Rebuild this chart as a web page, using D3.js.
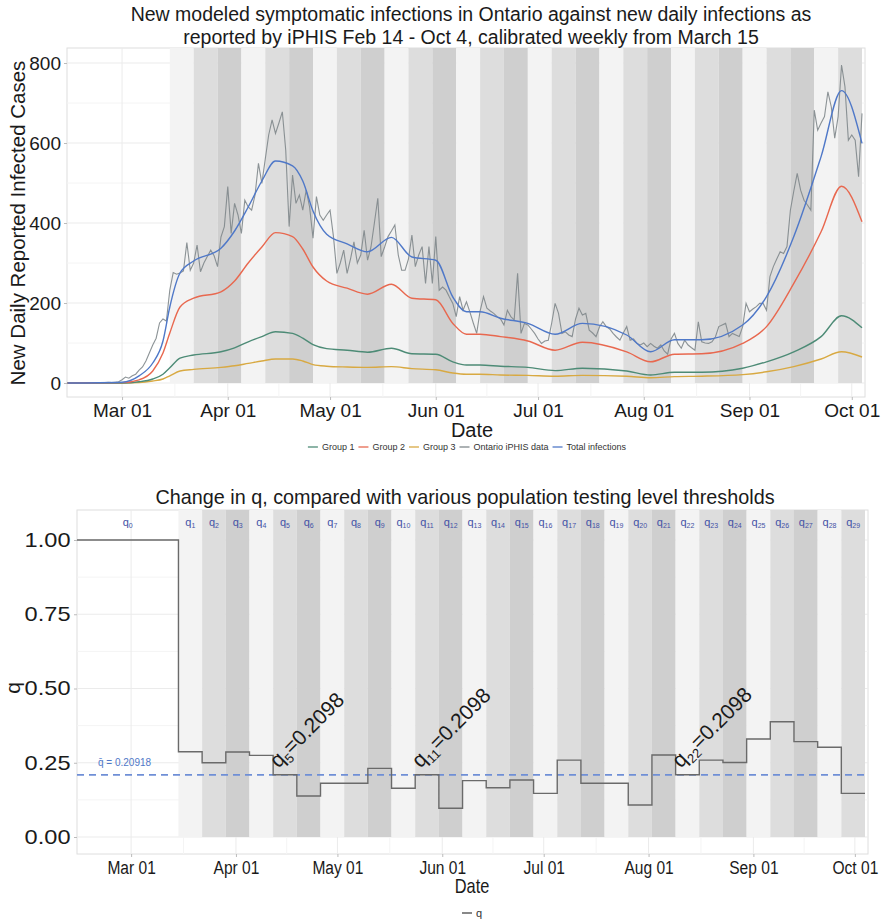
<!DOCTYPE html>
<html>
<head>
<meta charset="utf-8">
<script src="https://cdn.jsdelivr.net/npm/d3@7"></script>
<style>
body { margin: 0; background: #fff; }
text { font-family: "Liberation Sans", Arial, sans-serif; }
</style>
</head>
<body>
<svg id="chart" width="885" height="924"></svg>
<script>
// days are counted from Feb 14 2020
var startDate = new Date(2020, 1, 14);
var lastDay = 233;          // Oct 4
var firstWeekDay = 30;      // Mar 15, weekly calibration starts

var monthTicks = ["2020-03-01","2020-04-01","2020-05-01","2020-06-01","2020-07-01","2020-08-01","2020-09-01","2020-10-01"];

// modeled curves at these days
var smoothDays = [0,16,21,25,28,30,33,37,45,49,53,57,61,66,69,72,76,82,88,95,101,108,113,117,121,127,135,143,151,164,171,178,186,198,205,213,221,227,233];
var group1 = [0,0,3,10,22,38,62,70,78,88,103,116,128,124,112,96,86,82,77,87,73,72,53,45,45,42,39,31,37,30,20,27,27,37,53,78,116,168,138];
var group2 = [0,1,8,30,75,125,190,212,228,255,300,340,376,366,335,290,255,237,222,247,212,208,149,122,122,116,105,82,102,78,53,72,73,99,141,249,378,492,403];
var group3 = [0,0,1,5,10,18,30,34,39,43,49,55,60,60,55,46,42,40,39,41,36,33,25,22,22,20,19,17,19,17,13,16,17,21,28,41,60,78,65];
var totalInfections = [0,2,18,50,105,190,275,305,337,380,440,505,555,543,505,430,372,348,328,364,315,307,215,178,178,162,149,122,149,120,78,108,108,145,216,366,566,731,599];

// daily iPHIS counts, Feb 14 .. Oct 4
var iphis = [0,0,0,0,0,1,0,0,1,0,0,1,2,1,2,3,
  8,15,12,18,22,32,40,55,75,95,112,150,160,155,
  232,276,272,275,280,351,282,300,345,278,
  300,316,332,318,291,365,391,491,374,449,
  420,374,457,440,432,470,549,499,560,620,
  658,624,650,678,582,391,520,449,470,432,
  482,440,362,466,420,407,420,432,366,274,
  300,332,274,310,353,300,320,382,307,340,
  400,462,316,340,366,380,395,320,282,282,
  310,370,291,320,341,249,341,249,366,232,
  240,232,215,199,166,216,182,203,178,150,
  124,180,216,187,180,174,166,160,145,182,
  166,158,274,124,149,145,135,124,110,99,
  105,107,150,199,174,124,128,120,116,160,
  187,170,174,132,125,116,140,153,141,135,
  124,115,107,125,141,107,110,99,95,100,
  91,99,92,87,95,80,72,110,124,99,
  87,107,95,88,82,153,103,100,99,103,
  115,141,145,149,116,124,120,116,141,199,
  178,185,191,199,199,182,266,291,310,328,
  324,341,432,480,524,482,457,445,432,682,
  632,650,666,728,690,612,666,795,741,607,
  620,607,516,674];

// weekly q, q0 .. q29
var qValues = [1.00,0.287,0.250,0.286,0.275,0.2098,0.138,0.181,0.181,0.231,0.164,0.2098,0.097,0.190,0.166,0.192,0.147,0.259,0.181,0.181,0.108,0.276,0.2098,0.259,0.251,0.330,0.388,0.321,0.302,0.147];
var qMean = 0.20918;
var annotated = [5, 11, 22];

var seriesNames = ["Group 1","Group 2","Group 3","Ontario iPHIS data","Total infections"];
var seriesColors = ["#4d8b76","#e8684f","#d8a942","#7f878b","#4f78c8"];
var bandColors = ["#f3f3f3","#dddddd","#cfcfcf"];

function day(d) { return d3.timeDay.offset(startDate, d); }
function periodStart(i) { return i == 0 ? 0 : firstWeekDay + 7 * (i - 1); }
function periodEnd(i) { return i == 0 ? firstWeekDay : firstWeekDay + 7 * i; }

var svg = d3.select("#chart");
var parseDay = d3.timeParse("%Y-%m-%d");
var fmt = d3.timeFormat("%b %d");

// ---------------- top chart ----------------
var x1 = d3.scaleTime().domain([day(0), day(lastDay)]).range([67.5, 862]);
var y1 = d3.scaleLinear().domain([-35, 837.5]).range([397, 48]);

var topG = svg.append("g");
topG.append("rect").attr("x", 67).attr("y", 48).attr("width", 798).attr("height", 349)
  .attr("fill", "#fff").attr("stroke", "#dedede");

[100,300,500,700].forEach(function(v){
  topG.append("line").attr("x1",67).attr("x2",865).attr("y1",y1(v)).attr("y2",y1(v)).attr("stroke","#f4f4f4");
});
[0,200,400,600,800].forEach(function(v){
  topG.append("line").attr("x1",67).attr("x2",865).attr("y1",y1(v)).attr("y2",y1(v)).attr("stroke","#ebebeb");
});
monthTicks.forEach(function(m, i){
  var d = parseDay(m);
  topG.append("line").attr("x1",x1(d)).attr("x2",x1(d)).attr("y1",48).attr("y2",397).attr("stroke","#ebebeb");
  if (i < monthTicks.length - 1) {
    var mid = new Date((d.getTime() + parseDay(monthTicks[i+1]).getTime()) / 2);
    topG.append("line").attr("x1",x1(mid)).attr("x2",x1(mid)).attr("y1",48).attr("y2",397).attr("stroke","#f4f4f4");
  }
});

for (var i = 1; i < qValues.length; i++) {
  topG.append("rect")
    .attr("x", x1(day(periodStart(i)))).attr("width", x1(day(periodEnd(i))) - x1(day(periodStart(i))))
    .attr("y", 48).attr("height", y1(0) - 48)
    .attr("fill", bandColors[(i - 1) % 3]);
}

function drawSmooth(vals, color) {
  var line = d3.line().x(function(d, i){ return x1(day(smoothDays[i])); }).y(function(d){ return y1(d); })
    .curve(d3.curveMonotoneX);
  topG.append("path").datum(vals).attr("d", line).attr("fill","none").attr("stroke",color).attr("stroke-width",1.4);
}
var greyLine = d3.line().x(function(d, i){ return x1(day(i)); }).y(function(d){ return y1(d); });
topG.append("path").datum(iphis).attr("d", greyLine).attr("fill","none")
  .attr("stroke", seriesColors[3]).attr("stroke-width", 1.1).attr("opacity", 0.9);
drawSmooth(group3, seriesColors[2]);
drawSmooth(group1, seriesColors[0]);
drawSmooth(group2, seriesColors[1]);
drawSmooth(totalInfections, seriesColors[4]);

var xa1 = topG.append("g").attr("transform","translate(0,397)")
  .call(d3.axisBottom(x1).tickValues(monthTicks.map(parseDay)).tickFormat(fmt).tickSize(3));
var ya1 = topG.append("g").attr("transform","translate(67,0)")
  .call(d3.axisLeft(y1).tickValues([0,200,400,600,800]).tickFormat(d3.format("d")).tickSize(3));
[xa1, ya1].forEach(function(a){
  a.select(".domain").remove();
  a.selectAll("line").attr("stroke","#bbb");
  a.selectAll("text").attr("font-size",19).attr("fill","#1a1a1a").attr("font-family","Liberation Sans, Arial, sans-serif");
});
xa1.selectAll("text").attr("dy","0.74em");

topG.append("text").attr("x",471).attr("y",21).attr("text-anchor","middle").attr("font-size",19.5).attr("fill","#1a1a1a")
  .text("New modeled symptomatic infections in Ontario against new daily infections as");
topG.append("text").attr("x",471).attr("y",44).attr("text-anchor","middle").attr("font-size",19.5).attr("fill","#1a1a1a")
  .text("reported by iPHIS Feb 14 - Oct 4, calibrated weekly from March 15");
topG.append("text").attr("x",472).attr("y",437).attr("text-anchor","middle").attr("font-size",20).attr("fill","#1a1a1a").text("Date");
topG.append("text").attr("transform","translate(25,223) rotate(-90)").attr("text-anchor","middle")
  .attr("font-size",20.5).attr("fill","#1a1a1a").text("New Daily Reported Infected Cases");

// legend
var leg = topG.append("g");
var lx = 0;
seriesNames.forEach(function(n, i){
  leg.append("line").attr("x1",lx).attr("x2",lx+10).attr("y1",0).attr("y2",0)
    .attr("stroke",seriesColors[i]).attr("stroke-width",1.6).attr("opacity",0.8);
  var t = leg.append("text").attr("x",lx+14).attr("y",3.2).attr("font-size",9).attr("fill","#333").text(n);
  lx += 14 + t.node().getComputedTextLength() + 4;
});
leg.attr("transform","translate(" + (469 - lx/2) + ",447)");

// ---------------- bottom chart ----------------
var x2 = d3.scaleTime().domain([day(0), day(lastDay)]).range([77, 865]);
var y2 = d3.scaleLinear().domain([-0.0572, 1.101]).range([854, 510]);

var bot = svg.append("g");
bot.append("rect").attr("x",77).attr("y",510).attr("width",791).attr("height",344)
  .attr("fill","#fff").attr("stroke","#dedede");
[0.125,0.375,0.625,0.875].forEach(function(v){
  bot.append("line").attr("x1",77).attr("x2",868).attr("y1",y2(v)).attr("y2",y2(v)).attr("stroke","#f4f4f4");
});
[0,0.25,0.5,0.75,1].forEach(function(v){
  bot.append("line").attr("x1",77).attr("x2",868).attr("y1",y2(v)).attr("y2",y2(v)).attr("stroke","#ebebeb");
});
monthTicks.forEach(function(m, i){
  var d = parseDay(m);
  bot.append("line").attr("x1",x2(d)).attr("x2",x2(d)).attr("y1",510).attr("y2",854).attr("stroke","#ebebeb");
  if (i < monthTicks.length - 1) {
    var mid = new Date((d.getTime() + parseDay(monthTicks[i+1]).getTime()) / 2);
    bot.append("line").attr("x1",x2(mid)).attr("x2",x2(mid)).attr("y1",510).attr("y2",854).attr("stroke","#f4f4f4");
  }
});

for (var j = 1; j < qValues.length; j++) {
  bot.append("rect")
    .attr("x", x2(day(periodStart(j)))).attr("width", x2(day(periodEnd(j))) - x2(day(periodStart(j))))
    .attr("y", 510).attr("height", y2(0) - 510)
    .attr("fill", bandColors[(j - 1) % 3]);
}

// q labels
qValues.forEach(function(q, i){
  var cx = (x2(day(periodStart(i))) + x2(day(periodEnd(i)))) / 2;
  var t = bot.append("text").attr("x", cx).attr("y", 526).attr("text-anchor","middle")
    .attr("font-size", 11).attr("fill", "#4352a6");
  t.append("tspan").text("q");
  t.append("tspan").attr("dy", 2).attr("font-size", 7).text(i);
});

// mean line
bot.append("line").attr("x1",77).attr("x2",868).attr("y1",y2(qMean)).attr("y2",y2(qMean))
  .attr("stroke","#6f8fd6").attr("stroke-width",1.6).attr("stroke-dasharray","7,5");
bot.append("text").attr("x",98).attr("y",y2(qMean) - 9).attr("font-size",10).attr("fill","#4f78c8")
  .text("q\u0304 = " + qMean);

// step line
var steps = qValues.map(function(q, i){ return [day(periodStart(i)), q]; });
steps.push([day(lastDay), qValues[qValues.length - 1]]);
bot.append("path").datum(steps)
  .attr("d", d3.line().x(function(d){ return x2(d[0]); }).y(function(d){ return y2(d[1]); }).curve(d3.curveStepAfter))
  .attr("fill","none").attr("stroke","#6a6a6a").attr("stroke-width",1.4);

// annotations
annotated.forEach(function(i){
  var ax = x2(day(periodStart(i))) + 5, ay = y2(qValues[i]) - 6;
  var t = bot.append("text").attr("transform","translate(" + ax + "," + ay + ") rotate(-45)")
    .attr("font-size", 21).attr("fill", "#1a1a1a");
  t.append("tspan").text("q");
  t.append("tspan").attr("dy", 5).attr("font-size", 13).text(i);
  t.append("tspan").attr("dy", -5).text("=" + qValues[i].toFixed(4));
});

var xa2 = bot.append("g").attr("transform","translate(0,854)")
  .call(d3.axisBottom(x2).tickValues(monthTicks.map(parseDay)).tickFormat(fmt).tickSize(3));
var ya2 = bot.append("g").attr("transform","translate(77,0)")
  .call(d3.axisLeft(y2).tickValues([0,0.25,0.5,0.75,1]).tickFormat(d3.format(".2f")).tickSize(3));
[xa2, ya2].forEach(function(a){
  a.select(".domain").remove();
  a.selectAll("line").attr("stroke","#bbb");
  a.selectAll("text").attr("font-size",19).attr("fill","#1a1a1a").attr("font-family","Liberation Sans, Arial, sans-serif");
});
// lower panel: x labels narrower, y labels wider
xa2.selectAll("text").attr("dy","0.72em").attr("transform","scale(0.82,1)");
ya2.selectAll("text").attr("font-size", 20).attr("x", -5.5).attr("transform","scale(1.18,1)");

bot.append("text").attr("x",465).attr("y",504).attr("text-anchor","middle").attr("font-size",19.8).attr("fill","#1a1a1a")
  .text("Change in q, compared with various population testing level thresholds");
bot.append("text").attr("transform","translate(472,893) scale(0.82,1)").attr("text-anchor","middle")
  .attr("font-size",20).attr("fill","#1a1a1a").text("Date");
bot.append("text").attr("transform","translate(20,688) rotate(-90)").attr("text-anchor","middle")
  .attr("font-size",21).attr("fill","#1a1a1a").text("q");

bot.append("line").attr("x1",462).attr("x2",472).attr("y1",913).attr("y2",913).attr("stroke","#6a6a6a").attr("stroke-width",1.6);
bot.append("text").attr("x",476).attr("y",917).attr("font-size",11).attr("fill","#333").text("q");
</script>
</body>
</html>
